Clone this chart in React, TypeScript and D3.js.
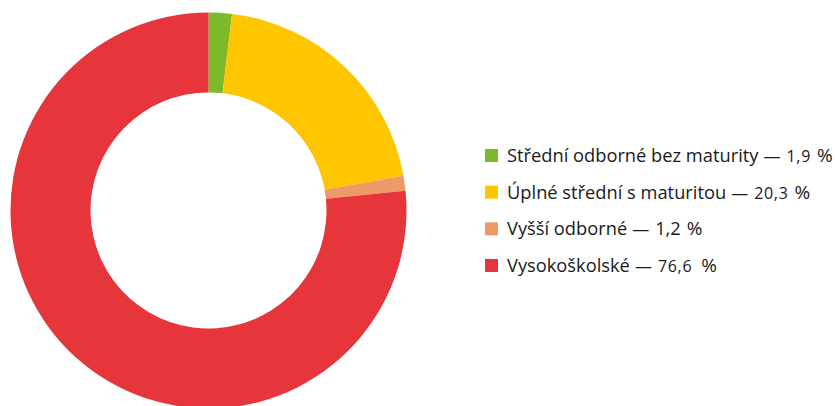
import { useEffect, useRef } from "react";
import * as d3 from "d3";

const categories = [
  "Střední odborné bez maturity",
  "Úplné střední s maturitou",
  "Vyšší odborné",
  "Vysokoškolské",
];
const values = [1.9, 20.3, 1.2, 76.6];
const valueLabels = ["1,9", "20,3", "1,2", "76,6"];
const smallNumber = [true, true, false, true];
const colors = ["#7db928", "#fec600", "#ee9a68", "#e6363c"];

const App = () => {
  const svgRef = useRef<SVGSVGElement>(null);
  const W = 835;
  const H = 406;

  useEffect(() => {
    const svg = d3.select(svgRef.current);
    svg.selectAll("*").remove();

    const cx = 208.5;
    const cy = 210.5;
    const outerR = 198;
    const innerR = 118;

    const pie = d3
      .pie<number>()
      .sort(null)
      .value((d) => d);
    const arc = d3.arc<d3.PieArcDatum<number>>().innerRadius(innerR).outerRadius(outerR);

    const g = svg.append("g").attr("transform", `translate(${cx}, ${cy})`);
    g.selectAll("path")
      .data(pie(values))
      .enter()
      .append("path")
      .attr("d", arc)
      .style("fill", (d, i) => colors[i]);

    // legend
    const legendX = 485;
    const rowY = d3.scalePoint<number>().domain(d3.range(categories.length)).range([162, 272]);
    const font = "'Open Sans', sans-serif";

    const rows = svg
      .selectAll("g.legend")
      .data(categories)
      .enter()
      .append("g")
      .attr("class", "legend")
      .attr("transform", (d, i) => `translate(${legendX}, ${rowY(i)})`);

    rows
      .append("rect")
      .attr("x", 0)
      .attr("y", -13)
      .attr("width", 13)
      .attr("height", 13)
      .style("fill", (d, i) => colors[i]);

    const text = rows
      .append("text")
      .attr("x", 22)
      .attr("y", 0)
      .style("font-family", font)
      .style("font-size", "18.3px")
      .style("fill", "#1a1a1a");

    text.append("tspan").text((d) => d);
    text.append("tspan").attr("dx", 5).style("font-size", "17px").text("—");
    text
      .append("tspan")
      .attr("dx", 6)
      .style("font-size", (d, i) => (smallNumber[i] ? "16px" : "18.3px"))
      .style("letter-spacing", (d, i) => (smallNumber[i] ? "0.7px" : "0px"))
      .text((d, i) => valueLabels[i]);
    text
      .append("tspan")
      .attr("dx", (d, i) => (i === 3 ? 9 : 6))
      .style("font-size", "19px")
      .text("%");
  }, []);

  return (
    <svg
      ref={svgRef}
      width={W}
      height={H}
      viewBox={`0 0 ${W} ${H}`}
      style={{ position: "absolute", left: 0, top: 0, background: "#fff" }}
    ></svg>
  );
};

export default App;
